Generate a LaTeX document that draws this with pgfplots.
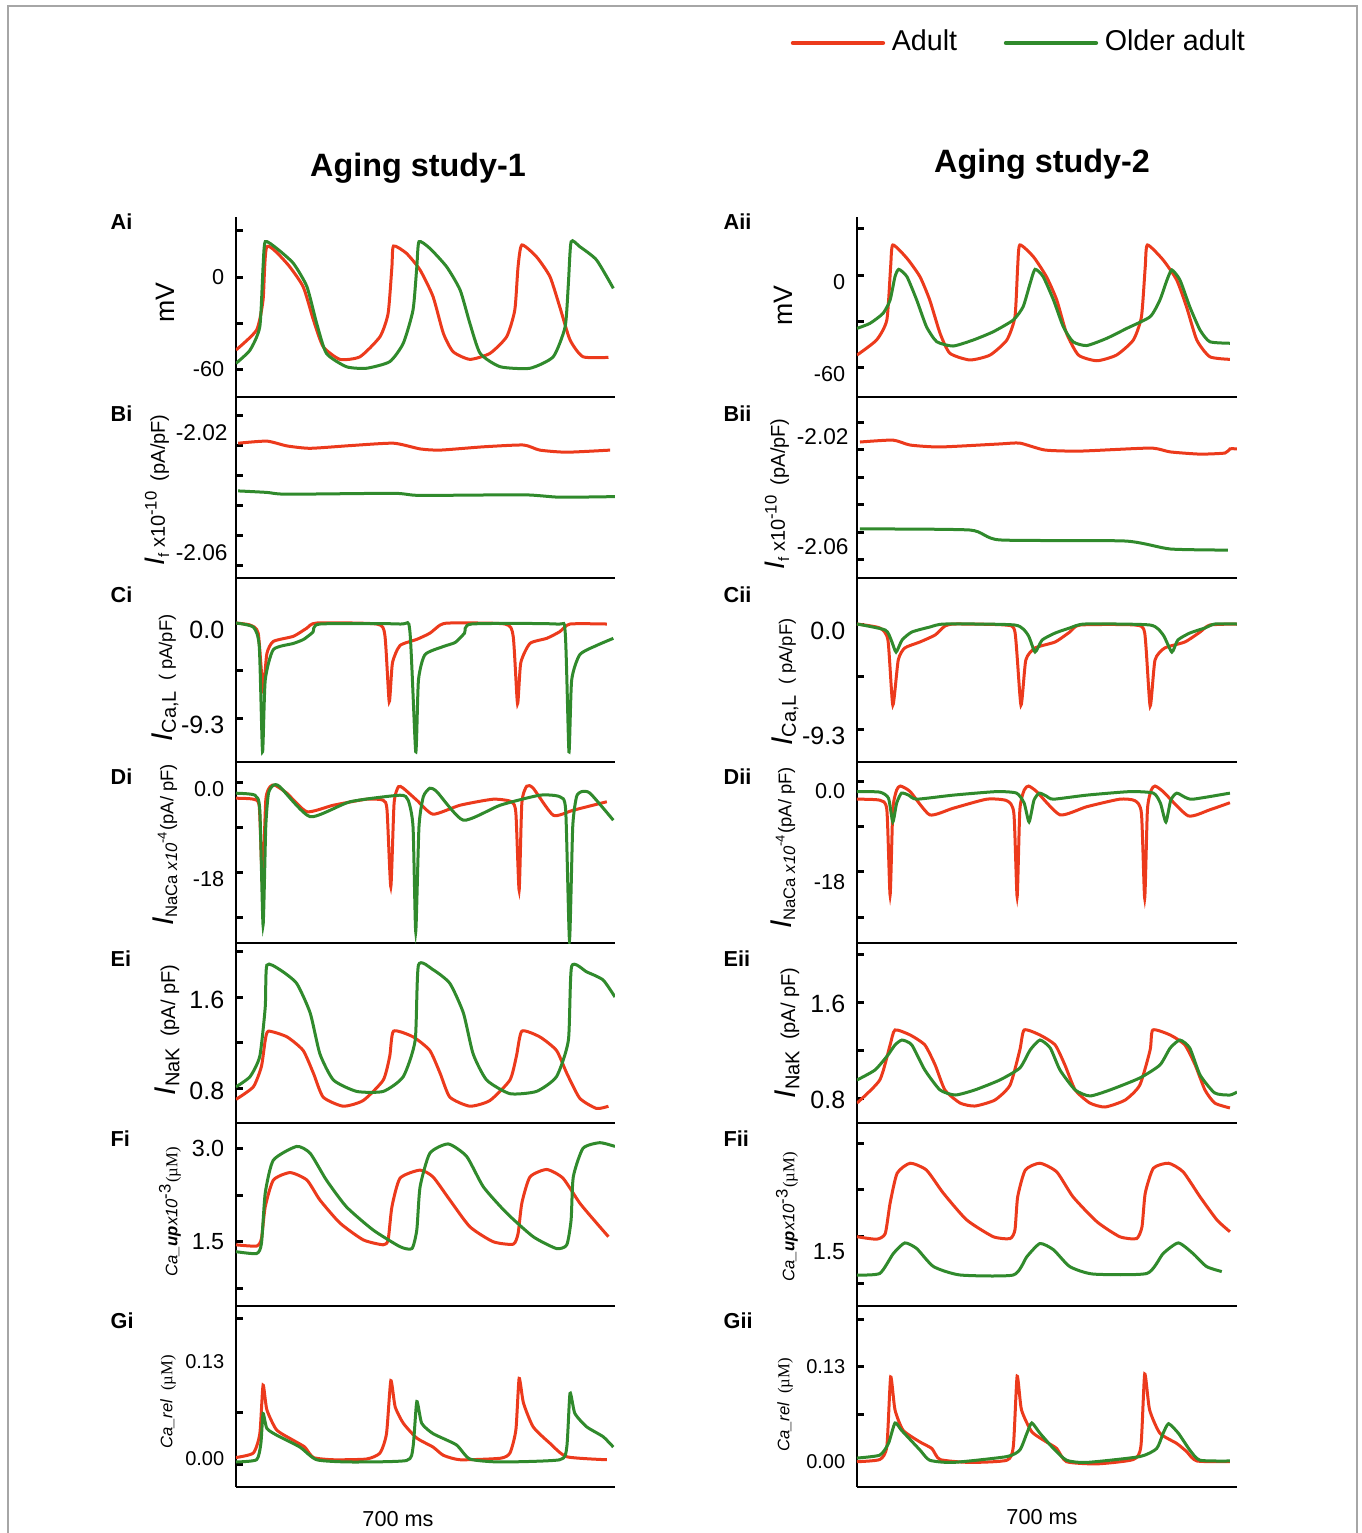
\documentclass[border=0pt]{standalone}
\usepackage{fontspec}
\setmainfont{Liberation Sans}
\newfontfamily\serif{Liberation Serif}
\usepackage{pgfplots}
\pgfplotsset{compat=1.18}
\definecolor{adult}{RGB}{236,58,28}
\definecolor{older}{RGB}{48,138,44}
\newcommand{\fs}[1]{\fontsize{#1}{#1}\selectfont}
\pgfplotsset{
  panel/.style={scale only axis, anchor=south west, xmin=0, xmax=700, enlargelimits=false,
    axis x line=bottom, axis y line=left, axis line style={-, line width=0.8pt},
    xtick=\empty, tick align=inside, major tick length=2pt,
    tick style={black, line width=0.9pt},
    /pgf/number format/assume math mode=true, clip=true},
  lcol/.style={panel, width=113.7pt},
  rcol/.style={panel, width=114pt},
  ad/.style={color=adult, line width=0.9pt, smooth, tension=0.35},
  ol/.style={color=older, line width=0.9pt, smooth, tension=0.35},
}
\begin{document}
\begin{tikzpicture}[x=0.3pt,y=0.3pt]
\path[use as bounding box] (0,0) rectangle (1362,1533);
\draw[gray!70, line width=0.5pt] (8,0) -- (8,1527) -- (1357,1527) -- (1357,0);

% ---------------- left column: Aging study-1 ----------------
\begin{axis}[lcol, at={(70.8pt,340.8pt)}, height=54pt, ymin=-78.24, ymax=39.12,
  ytick={-60,-30,0,30}, yticklabels={-60,{},0,{}}, yticklabel style={font=\fs{6.5}}]
\addplot[ad] coordinates {(0,-47.6) (38,-34.6) (50,-15) (57,19.8) (94,8.9) (124,-6.3) (143,-28) (161,-45.4) (192,-53.7) (229,-52) (266,-38.9) (281,-23.7) (288,6.7) (291,20.2) (315,15.4) (340,4.6) (364,-12.8) (383,-36.7) (401,-48.7) (432,-53.7) (469,-49.8) (500,-38.9) (515,-21.5) (521,6.7) (528,20.9) (555,13.2) (580,0.2) (598,-19.4) (617,-41) (641,-52) (688,-52.4)};
\addplot[ol] coordinates {(0,-56.3) (26,-47.6) (44,-32.4) (50,6.7) (54,23) (75,18.7) (106,8.9) (131,-6.3) (149,-30.2) (167,-49.8) (204,-58.5) (241,-59.5) (284,-55.2) (309,-43.2) (327,-21.5) (334,6.7) (338,23) (358,18.7) (389,6.7) (414,-8.5) (432,-30.2) (451,-49.8) (488,-58.5) (543,-59.5) (586,-52) (608,-32.4) (614,-4.1) (619,23) (635,19.8) (666,11.1) (697,-7.4)};
\end{axis}

\begin{axis}[lcol, at={(70.8pt,286.5pt)}, height=54.3pt, ymin=-2.06433, ymax=-2.004,
  ytick={-2.06,-2.05,-2.04,-2.03,-2.02,-2.01}, yticklabels={-2.06,{},{},{},-2.02,{}},
  yticklabel style={font=\fs{6.8}, yshift=3.8pt, xshift=1pt}]
\addplot[ad] coordinates {(4,-2.0194) (57,-2.0187) (94,-2.0203) (137,-2.0211) (211,-2.0202) (291,-2.0194) (340,-2.0213) (377,-2.0217) (457,-2.0206) (531,-2.0200) (561,-2.0217) (611,-2.0224) (691,-2.0217)};
\addplot[ol] coordinates {(4,-2.0353) (57,-2.0358) (94,-2.0364) (291,-2.0361) (340,-2.0368) (531,-2.0366) (598,-2.0374) (700,-2.0372)};
\end{axis}

\begin{axis}[lcol, at={(70.8pt,231.3pt)}, height=55.2pt, ymin=-13.601, ymax=4.403,
  ytick={-9.3,-4.65,0}, yticklabels={-9.3,{},0.0}, yticklabel style={font=\fs{7.5}, yshift=-2pt}]
\addplot[ad] coordinates {(0,0) (26,-0.2) (41,-1.0) (50,-6.5) (57,-3.0) (69,-1.8) (106,-1.3) (131,-0.5) (149,0) (260,-0.1) (275,-1.2) (283,-7.7) (289,-3.9) (303,-2.2) (334,-1.6) (358,-1.0) (377,-0.2) (395,0) (497,-0.1) (512,-1.3) (520,-7.9) (526,-3.9) (543,-2.0) (574,-1.5) (598,-0.85) (617,-0.1) (685,-0.1)};
\addplot[ol] coordinates {(0,0) (32,-0.4) (43,-2.3) (49,-12.6) (54,-5.6) (69,-2.6) (106,-2.0) (125,-1.6) (142,-0.9) (155,-0.1) (303,-0.1) (321,-0.7) (332,-12.6) (337,-5.6) (349,-3.1) (383,-2.3) (405,-1.9) (422,-1.0) (435,-0.1) (592,-0.1) (608,-0.85) (615,-12.6) (620,-5.6) (635,-3.1) (666,-2.2) (697,-1.5)};
\end{axis}

\begin{axis}[lcol, at={(70.8pt,177pt)}, height=54.3pt, ymin=-32.06, ymax=4.14,
  ytick={-27,-18,-9,0}, yticklabels={{},-18,{},0.0}, yticklabel style={font=\fs{6.5}, yshift=-2pt}]
\addplot[ad] coordinates {(0,-3.1) (32,-3.3) (43,-4.8) (49,-20.5) (55,-3.5) (63,-0.8) (72,-0.5) (94,-2.1) (131,-5.8) (180,-4.5) (241,-3.3) (272,-3.5) (279,-5.5) (286,-20.8) (292,-4.1) (300,-0.8) (309,-1.1) (334,-3.5) (364,-6.3) (414,-4.5) (475,-3.3) (509,-3.8) (517,-6.1) (523,-21.5) (528,-4.1) (537,-0.7) (549,-1.1) (586,-6.5) (623,-5.5) (685,-3.8)};
\addplot[ol] coordinates {(0,-2.1) (35,-2.5) (44,-5.5) (50,-28.5) (55,-8.8) (60,-2.1) (69,-0.5) (81,-0.8) (137,-6.8) (211,-3.8) (303,-2.5) (318,-3.5) (327,-8.8) (332,-29.8) (338,-8.8) (346,-2.8) (358,-1.1) (371,-1.8) (420,-7.5) (488,-4.5) (561,-2.5) (598,-2.8) (609,-5.5) (616,-31.5) (622,-8.8) (629,-2.8) (638,-1.8) (654,-2.1) (697,-7.5)};
\end{axis}

\begin{axis}[lcol, at={(70.8pt,123pt)}, height=54pt, ymin=0.4923, ymax=2.0747,
  ytick={0.8,1.2,1.6,2.0}, yticklabels={0.8,{},1.6,{}}, yticklabel style={font=\fs{7.5}, yshift=-1pt}]
\addplot[ad] coordinates {(0,0.70) (32,0.81) (47,0.99) (54,1.22) (60,1.30) (94,1.25) (124,1.13) (143,0.93) (161,0.72) (198,0.64) (235,0.69) (272,0.87) (284,1.08) (291,1.30) (327,1.25) (358,1.13) (377,0.93) (395,0.72) (432,0.64) (469,0.69) (506,0.87) (518,1.08) (528,1.30) (561,1.25) (592,1.13) (611,0.93) (635,0.71) (666,0.62) (688,0.64)};
\addplot[ol] coordinates {(0,0.81) (26,0.90) (44,1.08) (54,1.51) (57,1.88) (81,1.84) (112,1.72) (137,1.46) (155,1.10) (180,0.87) (223,0.77) (272,0.77) (309,0.90) (331,1.22) (337,1.88) (364,1.84) (395,1.72) (420,1.46) (438,1.10) (463,0.87) (506,0.75) (555,0.77) (592,0.90) (614,1.22) (620,1.87) (648,1.82) (678,1.75) (700,1.60)};
\end{axis}

\begin{axis}[lcol, at={(70.8pt,68.1pt)}, height=54.9pt, ymin=0.4675, ymax=3.4063,
  ytick={0.75,1.5,2.25,3.0}, yticklabels={{},1.5,{},3.0}, yticklabel style={font=\fs{7}}]
\addplot[ad] coordinates {(0,1.45) (38,1.43) (47,1.55) (54,2.06) (69,2.49) (100,2.61) (131,2.49) (155,2.17) (192,1.80) (235,1.53) (272,1.45) (281,1.53) (288,2.06) (303,2.52) (340,2.65) (364,2.54) (395,2.17) (432,1.74) (475,1.50) (512,1.46) (521,1.63) (528,2.12) (543,2.54) (574,2.66) (604,2.52) (635,2.12) (666,1.80) (688,1.58)};
\addplot[ol] coordinates {(0,1.34) (38,1.31) (47,1.47) (54,2.28) (69,2.81) (112,3.03) (137,2.92) (167,2.49) (204,2.06) (253,1.69) (303,1.42) (325,1.39) (334,1.69) (340,2.38) (358,2.92) (392,3.07) (426,2.87) (457,2.38) (500,1.96) (549,1.58) (592,1.39) (611,1.45) (619,1.85) (623,2.54) (641,3.00) (672,3.09) (700,3.03)};
\end{axis}

\begin{axis}[lcol, at={(70.8pt,13.8pt)}, height=54.3pt, ymin=-0.03753, ymax=0.2051,
  ytick={-0.008,0.0617,0.1877}, yticklabels={{},{},{}},
  extra y ticks={0,0.13}, extra y tick labels={0.00,0.13},
  extra y tick style={major tick length=0pt},
  yticklabel style={font=\fs{6}}]
\addplot[ad] coordinates {(0,0.002) (32,0.008) (44,0.034) (50,0.099) (57,0.066) (75,0.039) (106,0.025) (127,0.016) (143,0.002) (180,-0.001) (241,0) (266,0.008) (278,0.034) (286,0.105) (294,0.070) (309,0.048) (334,0.028) (364,0.016) (383,0.005) (414,-0.001) (488,0.001) (506,0.008) (517,0.039) (523,0.108) (531,0.075) (549,0.043) (580,0.021) (611,0.003) (685,-0.001)};
\addplot[ol] coordinates {(0,-0.004) (38,-0.001) (46,0.021) (50,0.061) (57,0.041) (75,0.032) (118,0.016) (149,-0.001) (211,-0.004) (315,-0.002) (327,0.016) (334,0.077) (343,0.048) (364,0.034) (407,0.019) (432,0) (488,-0.004) (598,-0.001) (611,0.016) (617,0.088) (626,0.061) (648,0.043) (678,0.030) (697,0.016)};
\end{axis}

% ---------------- right column: Aging study-2 ----------------
\begin{axis}[rcol, at={(257.1pt,340.8pt)}, height=54pt, ymin=-79.54, ymax=37.82,
  ytick={-60,-30,0,30}, yticklabels={-60,{},0,{}}, yticklabel style={font=\fs{6.5}, yshift=-2pt},
  legend style={at={(-0.176,1.967)}, anchor=west, draw=none, fill=none, inner sep=0pt,
    font=\fs{8.6}, legend columns=2, /tikz/every even column/.append style={column sep=12pt}},
  legend cell align=left,
  legend image code/.code={\draw[#1, line width=1.3pt, line cap=round] (0pt,0pt) -- (27pt,0pt);}]
\addplot[ad] coordinates {(0,-52.2) (36,-42.4) (55,-29.3) (62,5.4) (66,19.6) (92,10.9) (116,-1.1) (134,-16.3) (153,-38) (171,-51) (208,-55.4) (245,-52.2) (276,-42.4) (291,-27.2) (296,5.4) (300,19.6) (325,11.9) (349,-1.1) (368,-16.3) (386,-38) (408,-52.2) (442,-55.9) (478,-52.2) (509,-42.4) (524,-27.2) (531,5.4) (535,19.6) (564,9.8) (589,-3.3) (607,-20.7) (626,-42.4) (650,-53.3) (687,-55)};
\addplot[ol] coordinates {(0,-34.8) (24,-31.5) (48,-25) (61,-16.3) (70,-1.1) (77,3.7) (92,-1.1) (110,-16.3) (128,-33.7) (147,-43.5) (177,-46.3) (214,-42.4) (251,-37) (288,-29.3) (306,-20.7) (319,-5.4) (328,3.7) (343,-1.1) (362,-16.3) (380,-33.7) (398,-43.5) (423,-46) (460,-41.3) (497,-34.8) (540,-27.2) (558,-16.3) (571,-3.3) (580,3.3) (595,-3.3) (613,-20.7) (632,-35.9) (650,-43.5) (687,-44.5)};
\legend{Adult, Older adult}
\end{axis}

\begin{axis}[rcol, at={(257.1pt,286.5pt)}, height=54.3pt, ymin=-2.06655, ymax=-2.00073,
  ytick={-2.06,-2.05,-2.04,-2.03,-2.02,-2.01}, yticklabels={-2.06,{},{},{},-2.02,{}},
  yticklabel style={font=\fs{6.8}, yshift=4pt, xshift=1pt}]
\addplot[ad] coordinates {(5.5,-2.0171) (66,-2.0164) (98,-2.0182) (153,-2.0189) (263,-2.0178) (300,-2.0175) (346,-2.0200) (411,-2.0204) (540,-2.0193) (577,-2.0207) (632,-2.0215) (678,-2.0211) (687,-2.0196) (700,-2.0196)};
\addplot[ol] coordinates {(5.5,-2.0487) (208,-2.0491) (263,-2.0527) (494,-2.0531) (577,-2.0560) (683,-2.0564)};
\end{axis}

\begin{axis}[rcol, at={(257.1pt,231.3pt)}, height=55.2pt, ymin=-12.212, ymax=4.071,
  ytick={-9.3,-4.65,0}, yticklabels={-9.3,{},0.0}, yticklabel style={font=\fs{7.5}, yshift=-2.1pt}]
\addplot[ad] coordinates {(0,0) (42,-0.35) (57,-1.42) (66,-7.17) (76,-3.19) (88,-2.12) (116,-1.59) (144,-0.97) (162,-0.18) (181,0) (273,-0.09) (291,-0.71) (302,-7.17) (311,-3.19) (328,-2.12) (365,-1.59) (392,-0.71) (411,-0.09) (512,-0.09) (530,-0.80) (540,-7.26) (549,-3.19) (567,-2.12) (604,-1.59) (632,-0.71) (650,-0.09) (700,0)};
\addplot[ol] coordinates {(0,0) (52,-0.53) (63,-1.42) (72,-2.48) (83,-1.42) (101,-0.71) (134,-0.27) (162,0) (291,-0.09) (315,-0.97) (328,-2.48) (341,-1.42) (365,-0.80) (392,-0.35) (420,0) (540,-0.09) (564,-0.97) (580,-2.48) (591,-1.42) (613,-0.80) (641,-0.35) (659,0) (700,0)};
\end{axis}

\begin{axis}[rcol, at={(257.1pt,177pt)}, height=54.3pt, ymin=-32.079, ymax=3.762,
  ytick={-27,-18,-9,0}, yticklabels={{},-18,{},0.0}, yticklabel style={font=\fs{6.5}, yshift=-3pt}]
\addplot[ad] coordinates {(0,-3.6) (42,-3.8) (55,-5.7) (61,-22.6) (66,-5.7) (73,-1.8) (80,-1.0) (98,-2.1) (134,-6.7) (177,-5.4) (239,-3.6) (276,-3.9) (289,-6.4) (295,-22.9) (300,-5.7) (308,-1.8) (316,-1.0) (331,-2.1) (374,-6.7) (423,-5.1) (484,-3.6) (512,-3.9) (524,-6.4) (530,-23.2) (535,-5.7) (542,-1.8) (549,-1.0) (564,-2.1) (610,-6.9) (650,-5.7) (687,-4.3)};
\addplot[ol] coordinates {(0,-2.1) (42,-2.2) (58,-3.4) (66,-8.1) (73,-4.4) (82,-2.4) (95,-2.8) (110,-3.6) (177,-2.8) (257,-2.1) (294,-2.4) (308,-4.4) (317,-8.1) (326,-3.8) (336,-2.4) (349,-3.0) (362,-3.6) (423,-2.8) (503,-2.1) (546,-2.4) (559,-4.4) (569,-8.1) (578,-3.8) (589,-2.4) (604,-3.2) (619,-3.6) (687,-2.4)};
\end{axis}

\begin{axis}[rcol, at={(257.1pt,123pt)}, height=54pt, ymin=0.5917, ymax=2.0917,
  ytick={0.8,1.2,1.6,2.0}, yticklabels={0.8,{},1.6,{}}, yticklabel style={font=\fs{7.5}, yshift=-0.5pt}]
\addplot[ad] coordinates {(0,0.758) (42,0.95) (61,1.242) (70,1.367) (98,1.325) (125,1.242) (144,1.075) (162,0.867) (190,0.758) (217,0.733) (254,0.783) (282,0.908) (300,1.2) (308,1.367) (337,1.325) (365,1.242) (383,1.075) (402,0.867) (429,0.758) (457,0.725) (494,0.783) (521,0.908) (540,1.2) (545,1.367) (577,1.325) (604,1.242) (623,1.075) (641,0.867) (659,0.758) (687,0.717)};
\addplot[ol] coordinates {(0,0.95) (33,1.033) (57,1.158) (70,1.242) (83,1.283) (101,1.242) (125,1.033) (153,0.867) (181,0.825) (217,0.867) (263,0.95) (300,1.05) (319,1.2) (337,1.283) (356,1.217) (374,1.033) (402,0.867) (429,0.817) (466,0.867) (521,0.967) (558,1.075) (577,1.217) (595,1.283) (613,1.217) (632,0.992) (659,0.842) (687,0.825) (700,0.85)};
\end{axis}

\begin{axis}[rcol, at={(257.1pt,68.1pt)}, height=54.9pt, ymin=0.3871, ymax=3.3259,
  ytick={0.75,1.5,2.25,3.0}, yticklabels={{},1.5,{},{}}, yticklabel style={font=\fs{7}, yshift=-4.5pt}]
\addplot[ad] coordinates {(0,1.50) (36,1.46) (52,1.55) (61,2.04) (74,2.52) (98,2.68) (128,2.57) (159,2.20) (202,1.77) (251,1.50) (282,1.47) (291,1.61) (296,2.14) (310,2.57) (337,2.68) (368,2.54) (398,2.14) (442,1.74) (484,1.50) (515,1.47) (525,1.66) (531,2.20) (546,2.60) (574,2.68) (601,2.54) (632,2.14) (663,1.77) (687,1.58)};
\addplot[ol] coordinates {(0,0.885) (42,0.91) (67,1.23) (88,1.40) (110,1.31) (141,1.02) (190,0.885) (288,0.885) (313,1.18) (337,1.39) (362,1.29) (392,1.02) (435,0.90) (534,0.91) (564,1.23) (592,1.40) (619,1.23) (644,1.02) (672,0.94)};
\end{axis}

\begin{axis}[rcol, at={(257.1pt,13.8pt)}, height=54.3pt, ymin=-0.03462, ymax=0.21305,
  ytick={0,0.065,0.13,0.195}, yticklabels={0.00,{},0.13,{}}, yticklabel style={font=\fs{6}}]
\addplot[ad] coordinates {(0,0) (42,0.003) (55,0.021) (62,0.116) (70,0.071) (85,0.043) (116,0.027) (138,0.018) (153,0.003) (208,-0.001) (276,0.002) (288,0.021) (295,0.117) (303,0.071) (322,0.041) (349,0.027) (368,0.018) (386,0) (442,-0.003) (509,0.003) (523,0.021) (530,0.120) (539,0.071) (558,0.039) (589,0.025) (607,0.014) (626,0.001) (687,0)};
\addplot[ol] coordinates {(0,0.005) (42,0.009) (58,0.025) (70,0.053) (82,0.043) (116,0.016) (134,0.002) (177,-0.001) (276,0.007) (300,0.016) (313,0.039) (322,0.053) (337,0.039) (362,0.018) (386,0.002) (423,-0.001) (521,0.007) (552,0.018) (564,0.039) (574,0.052) (592,0.039) (613,0.016) (632,0.002) (687,0.001)};
\end{axis}

% ---------------- titles and labels ----------------
\node[font=\bfseries\fs{9.7}] at (418,1365) {Aging study-1};
\node[font=\bfseries\fs{9.7}] at (1042,1369) {Aging study-2};

\foreach \lab/\y in {A/1311,B/1119,C/938,D/756,E/574,F/394,G/212}{
  \node[font=\bfseries\fs{6.5}, anchor=west, inner sep=0pt] at (110,\y) {\lab i};
  \node[font=\bfseries\fs{6.5}, anchor=west, inner sep=0pt] at (723,\y) {\lab ii};
}

\newcommand{\labA}{\fs{8}mV}
\newcommand{\labB}{\fs{6}{\fs{8.5}\itshape I}\raisebox{-0.4ex}{\fs{4.5}f} x10\textsuperscript{-10} \,(pA/pF)}
\newcommand{\labC}{\fs{5.5}{\fs{9}\itshape I}\raisebox{-0.4ex}{\fs{6}Ca,L} \ ( pA/pF)}
\newcommand{\labD}{\fs{5.5}{\fs{9}\itshape I}\raisebox{-0.4ex}{\fs{5}NaCa {\itshape x10}}\textsuperscript{-4}(pA/ pF)}
\newcommand{\labE}{\fs{6}{\fs{9}\itshape I}\raisebox{-0.4ex}{\fs{6}NaK} \ (pA/ pF)}
\newcommand{\labF}{\fs{5}{\itshape Ca\_{\bfseries up}x10}\textsuperscript{-3}{\serif (µM)}}
\newcommand{\labG}{\fs{5}{\itshape Ca\_rel} \ {\serif (µM)}}

\node[rotate=90] at (165,1230) {\labA};
\node[rotate=90] at (157,1043) {\labB};
\node[rotate=90] at (165,855) {\labC};
\node[rotate=90] at (165,688) {\labD};
\node[rotate=90] at (167,503) {\labE};
\node[rotate=90] at (170,321) {\labF};
\node[rotate=90] at (168,131) {\labG};

\node[rotate=90] at (783,1227) {\labA};
\node[rotate=90] at (777,1039) {\labB};
\node[rotate=90] at (785,851) {\labC};
\node[rotate=90] at (783,685) {\labD};
\node[rotate=90] at (787,500) {\labE};
\node[rotate=90] at (787,316) {\labF};
\node[rotate=90] at (785,128) {\labG};

\node[font=\fs{6.5}] at (398,14) {700 ms};
\node[font=\fs{6.5}] at (1042,16) {700 ms};
\end{tikzpicture}
\end{document}
